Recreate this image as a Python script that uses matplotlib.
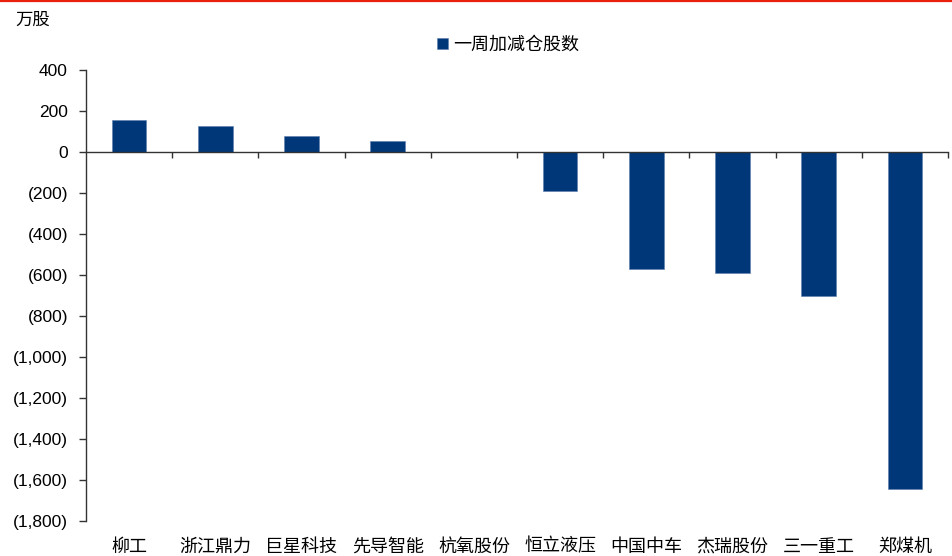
import matplotlib.pyplot as plt
from matplotlib.lines import Line2D
from matplotlib.ticker import FuncFormatter, FixedLocator
import matplotlib.transforms as mtransforms

CATEGORIES = ["柳工", "浙江鼎力", "巨星科技", "先导智能", "杭氧股份",
              "恒立液压", "中国中车", "杰瑞股份", "三一重工", "郑煤机"]
CHANGE = [157, 127, 79, 54, 0, -191, -569, -590, -703, -1645]
SERIES = "一周加减仓股数"
UNIT = "万股"

BAR = "#003778"
CJK = ["Noto Sans CJK SC", "DejaVu Sans"]

plt.rcParams.update({
    "font.family": ["Liberation Sans", "Noto Sans CJK SC", "DejaVu Sans"],
    "font.size": 12.5,
    "axes.edgecolor": "#333333",
    "axes.linewidth": 1.0,
})


def paren(v, _pos):
    v = int(round(v))
    return f"({abs(v):,})" if v < 0 else f"{v:,}"


def main():
    fig = plt.figure(figsize=(9.53, 5.56), dpi=100)
    ax = fig.add_axes([86 / 953, 1 - 521 / 556, (948 - 86) / 953, (521 - 70) / 556])

    x = list(range(len(CATEGORIES)))
    ax.bar(x, CHANGE, width=0.4, color=BAR, edgecolor="#5a7fb0", linewidth=0.4,
           label=SERIES, zorder=2)

    ax.set_xlim(-0.5, len(CATEGORIES) - 0.5)
    ax.set_ylim(-1800, 400)
    ax.set_yticks(range(-1800, 401, 200))
    ax.yaxis.set_major_formatter(FuncFormatter(paren))
    ax.tick_params(axis="y", direction="out", length=5, width=1, colors="#333333",
                   labelcolor="black", pad=8)

    # x axis sits on zero, ticks between categories, labels at the bottom
    for side in ("top", "right"):
        ax.spines[side].set_visible(False)
    ax.spines["bottom"].set_position(("data", 0))
    ax.xaxis.set_major_locator(FixedLocator([i + 0.5 for i in x]))
    ax.tick_params(axis="x", direction="out", length=4, width=1, colors="#333333",
                   labelbottom=False)
    trans = mtransforms.blended_transform_factory(ax.transData, ax.transAxes)
    for i, name in zip(x, CATEGORIES):
        ax.text(i, -0.057, name, transform=trans, ha="center", va="center",
                fontsize=13, family=CJK, color="black")

    fig.text(15 / 953, 1 - 20 / 556, UNIT, ha="left", va="center",
             fontsize=12.5, family=CJK)
    fig.legend(loc="center", bbox_to_anchor=(508 / 953, 1 - 45 / 556),
               frameon=False, handlelength=0.6, handleheight=0.6,
               handletextpad=0.3, prop={"family": CJK, "size": 13})
    fig.add_artist(Line2D([0, 1], [1 - 0.8 / 556] * 2, transform=fig.transFigure,
                          color="#e8200c", lw=1.6))

    fig.savefig("out.png", dpi=100)
    plt.close(fig)


if __name__ == "__main__":
    main()
